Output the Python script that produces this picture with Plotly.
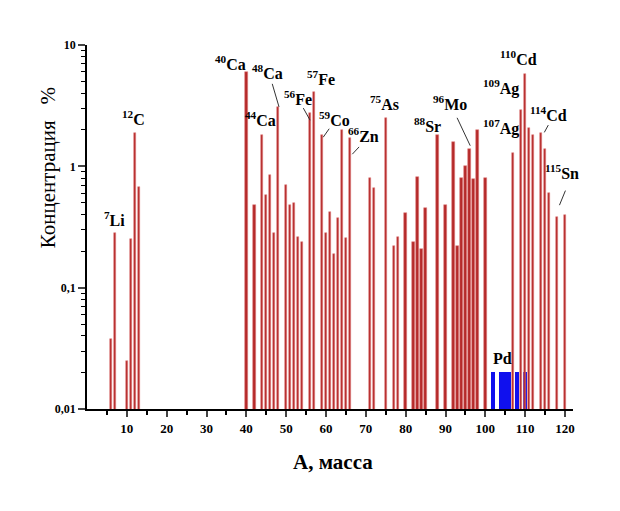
import plotly.graph_objects as go

# ---- data ----
masses = [6, 7, 10, 11, 12, 13,
          40, 42, 44, 45, 46, 47, 48, 50, 51, 52, 53, 54, 56, 57, 59, 60, 61, 62, 63, 64, 65, 66,
          71, 72, 75, 77, 78, 80, 82, 83, 84, 85, 88, 90, 92, 93, 94, 95, 96, 97, 98, 100,
          107, 109, 110, 111, 112, 114, 115, 116, 118, 120]
concentrations = [0.038, 0.28, 0.025, 0.25, 1.9, 0.68,
                  6.0, 0.48, 1.82, 0.58, 0.85, 0.28, 3.1, 0.70, 0.48, 0.50, 0.26, 0.24, 2.75, 4.1,
                  1.82, 0.28, 0.42, 0.19, 0.375, 2.0, 0.257, 1.71,
                  0.80, 0.66, 2.5, 0.22, 0.26, 0.41, 0.24, 0.81, 0.21, 0.45, 1.82, 0.48, 1.6, 0.22,
                  0.80, 1.0, 1.39, 0.78, 2.0, 0.80,
                  1.29, 2.93, 5.8, 2.08, 1.82, 1.88, 1.38, 0.60, 0.38, 0.40]
pd_masses = [102, 104, 105, 106, 108, 110]
pd_values = [0.02, 0.02, 0.02, 0.02, 0.02, 0.02]

x_ticks = [10, 20, 30, 40, 50, 60, 70, 80, 90, 100, 110, 120]
y_ticks = [0.01, 0.1, 1, 10]
y_ticktext = ["0,01", "0,1", "1", "10"]

labels = ["<sup>7</sup>Li", "<sup>12</sup>C", "<sup>40</sup>Ca", "<sup>48</sup>Ca", "<sup>44</sup>Ca",
          "<sup>56</sup>Fe", "<sup>57</sup>Fe", "<sup>59</sup>Co", "<sup>66</sup>Zn", "<sup>75</sup>As",
          "<sup>88</sup>Sr", "<sup>96</sup>Mo", "<sup>107</sup>Ag", "<sup>109</sup>Ag", "<sup>110</sup>Cd",
          "<sup>114</sup>Cd", "<sup>115</sup>Sn", "Pd"]

# ---- layout helpers (positions of labels, log10 y) ----
label_pos = [(6.8, -0.43), (11.6, 0.40), (35.9, 0.85), (45.2, 0.78), (43.5, 0.39),
             (53.0, 0.56), (58.8, 0.73), (62.1, 0.39), (69.3, 0.26), (74.6, 0.52),
             (85.4, 0.34), (91.2, 0.52), (103.8, 0.32), (103.8, 0.65), (108.3, 0.89),
             (115.8, 0.43), (119.3, -0.05), (104.3, -1.58)]

leaders = [((46.5, 0.68), (48.2, 0.49)),
           ((54.3, 0.48), (56.0, 0.38)),
           ((60.8, 0.31), (59.3, 0.24)),
           ((68.3, 0.16), (66.6, 0.10)),
           ((92.9, 0.40), (96.2, 0.17)),
           ((115.8, 0.34), (114.8, 0.28)),
           ((120.1, -0.20), (118.6, -0.32))]

fig = go.Figure()

fig.add_trace(go.Bar(x=pd_masses, y=pd_values, width=0.95,
                     marker=dict(color="#1010ee", line=dict(width=0)),
                     showlegend=False))
fig.add_trace(go.Bar(x=masses, y=concentrations, width=0.6,
                     marker=dict(color="#b52a2a", line=dict(width=0.6, color="rgba(225,130,130,0.9)")),
                     showlegend=False))

for (p0, p1) in leaders:
    fig.add_trace(go.Scatter(x=[p0[0], p1[0]], y=[10 ** p0[1], 10 ** p1[1]], mode="lines",
                             line=dict(color="#333333", width=1), showlegend=False,
                             hoverinfo="skip"))

serif = "Liberation Serif"
annotations = []
for txt, (ax_, ay_) in zip(labels, label_pos):
    annotations.append(dict(x=ax_, y=ay_, xref="x", yref="y", text=txt, showarrow=False,
                            font=dict(family=serif, size=16, color="black", weight="bold"),
                            xanchor="center", yanchor="middle"))
annotations.append(dict(x=-0.08, y=0.662, xref="paper", yref="paper",
                        text="Концентрация   %", textangle=-90, showarrow=False,
                        font=dict(family=serif, size=21, color="black"),
                        xanchor="center", yanchor="middle"))
annotations.append(dict(x=0.507, y=-0.146, xref="paper", yref="paper",
                        text="А, масса", showarrow=False,
                        font=dict(family=serif, size=21, color="black", weight="bold"),
                        xanchor="center", yanchor="middle"))

y_minor = [m * 10 ** e for e in (-2, -1, 0) for m in range(2, 10)]
x_minor = list(range(5, 121, 10))

fig.update_layout(
    width=620, height=511,
    margin=dict(l=79, r=55, t=37, b=110),
    paper_bgcolor="white", plot_bgcolor="white",
    barmode="overlay", bargap=0,
    annotations=annotations,
    xaxis=dict(range=[0, 122], tickvals=x_ticks, ticks="outside", ticklen=6, tickwidth=1.5,
               showline=True, linecolor="black", linewidth=1.8, showgrid=False, zeroline=False,
               tickfont=dict(family=serif, size=13, color="black", weight="bold"),
               minor=dict(tickvals=x_minor, ticks="outside", ticklen=4, tickwidth=1.5,
                          tickcolor="black")),
    yaxis=dict(type="log", range=[-2, 1], tickvals=y_ticks, ticktext=y_ticktext,
               ticks="outside", ticklen=7, tickwidth=1.5,
               showline=True, linecolor="black", linewidth=1.8, showgrid=False, zeroline=False,
               tickfont=dict(family=serif, size=12, color="black", weight="bold"),
               minor=dict(tickvals=y_minor, ticks="outside", ticklen=4, tickwidth=1,
                          tickcolor="black")),
)

fig.write_html("out.html")
